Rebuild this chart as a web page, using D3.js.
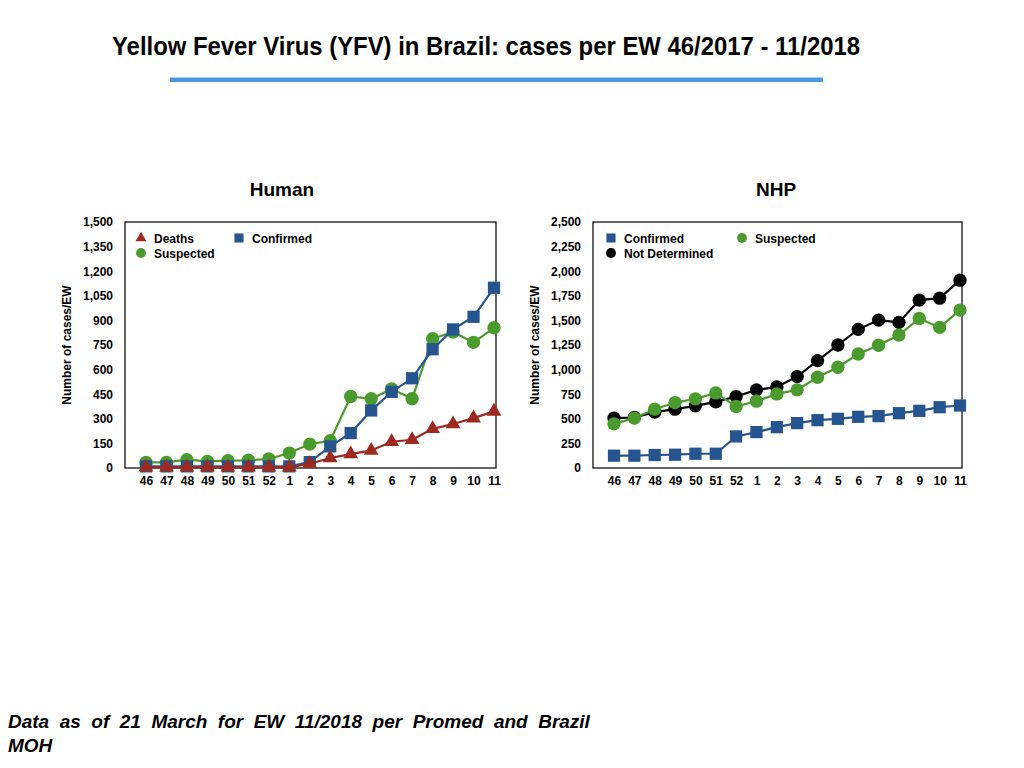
<!DOCTYPE html>
<html>
<head>
<meta charset="utf-8">
<script src="https://cdn.jsdelivr.net/npm/d3@7"></script>
<style>
  html, body { margin: 0; padding: 0; background: #fff; }
  svg { display: block; }
  text { font-family: "Liberation Sans", Arial, Helvetica, sans-serif; font-weight: bold; fill: #000; }
</style>
</head>
<body>
<svg id="chart" width="1024" height="768"></svg>
<script>
// EW 46/2017 -> 11/2018
const weeks = ["46", "47", "48", "49", "50", "51", "52", "1", "2", "3", "4", "5", "6", "7", "8", "9", "10", "11"]

// Human cases per EW
const humanSuspected = [34, 34, 51, 40, 45, 47, 55, 91, 146, 166, 436, 422, 482, 422, 788, 829, 766, 855]
const humanConfirmed = [10, 10, 10, 10, 10, 10, 10, 10, 36, 132, 213, 351, 464, 547, 724, 845, 922, 1099]
const humanDeaths    = [4, 4, 4, 4, 4, 4, 4, 4, 26, 61, 85, 107, 160, 172, 239, 268, 304, 345]

// NHP cases per EW
const nhpConfirmed = [125, 125, 132, 135, 145, 145, 321, 365, 415, 456, 486, 500, 520, 527, 557, 581, 618, 635]
const nhpSuspected = [449, 507, 598, 665, 703, 763, 625, 679, 753, 794, 922, 1024, 1159, 1247, 1351, 1520, 1429, 1605]
const nhpNotDetermined = [507, 513, 568, 598, 632, 672, 726, 794, 824, 929, 1091, 1250, 1409, 1503, 1480, 1706, 1726, 1909]

const humanTicks = d3.range(0, 1501, 150)
const nhpTicks   = d3.range(0, 2501, 250)

const RED = '#9c2a1f', BLUE = '#26548f', GREEN = '#4b9a2d', BLACK = '#000'

const svg = d3.select('#chart')

// ── Titre + règle bleue ──────────────────────────────
svg.append('text')
  .attr('x', 112).attr('y', 55)
  .style('font-family', '"Liberation Sans Narrow", "Liberation Sans", Arial, sans-serif')
  .attr('font-size', 25)
  .attr('textLength', 748).attr('lengthAdjust', 'spacingAndGlyphs')
  .text('Yellow Fever Virus (YFV) in Brazil: cases per EW 46/2017 - 11/2018')

svg.append('rect')
  .attr('x', 170).attr('y', 77.5).attr('width', 653).attr('height', 4.5)
  .attr('fill', '#4a97e6')

// ── Source (ligne 1 justifiée par l'espacement des mots) ──
const src = svg.append('text')
  .attr('x', 8).attr('y', 728)
  .attr('font-size', 19).attr('font-style', 'italic')
  .text('Data as of 21 March for EW 11/2018 per Promed and Brazil')
let ws = 0
for (let k = 0; k < 3; k++) {
  const w = src.node().getBBox().width
  ws = Math.max(0, ws + (582 - w) / 9)
  src.attr('word-spacing', ws)
}
svg.append('text')
  .attr('x', 8).attr('y', 752)
  .attr('font-size', 19).attr('font-style', 'italic')
  .text('MOH')

// ── Un panneau ───────────────────────────────────────
function panel(opts) {
  const { x0, x1, y0, y1, title, titleX, ticks, series, legend } = opts
  const g = svg.append('g')

  const x = d3.scalePoint().domain(weeks).range([x0 + 21, x1 - 2])
  const y = d3.scaleLinear().domain([0, d3.max(ticks)]).range([y1, y0])

  // titre du panneau
  g.append('text')
    .attr('x', titleX).attr('y', 196)
    .attr('text-anchor', 'middle').attr('font-size', 19)
    .text(title)

  // cadre
  g.append('rect')
    .attr('x', x0).attr('y', y0).attr('width', x1 - x0).attr('height', y1 - y0)
    .attr('fill', 'none').attr('stroke', '#000').attr('stroke-width', 1.2)

  // axes sans graduations
  const yAxis = g.append('g').attr('transform', `translate(${x0},0)`)
    .call(d3.axisLeft(y).tickValues(ticks).tickFormat(d3.format(',')).tickSize(0).tickPadding(12))
  const xAxis = g.append('g').attr('transform', `translate(0,${y1})`)
    .call(d3.axisBottom(x).tickSize(0).tickPadding(8))
  ;[yAxis, xAxis].forEach(a => {
    a.select('.domain').remove()
    a.selectAll('text').attr('font-size', 12).attr('font-family', null).attr('font-weight', 'bold').attr('fill', '#000')
  })

  g.append('text')
    .attr('transform', `translate(${x0 - 54},${(y0 + y1) / 2}) rotate(-90)`)
    .attr('text-anchor', 'middle').attr('font-size', 12)
    .text('Number of cases/EW')

  const line = d3.line().x((d, i) => x(weeks[i])).y(d => y(d))

  series.forEach(s => {
    g.append('path').datum(s.values)
      .attr('d', line).attr('fill', 'none')
      .attr('stroke', s.color).attr('stroke-width', 2.2)
    g.append('g').selectAll('path').data(s.values).join('path')
      .attr('transform', (d, i) => `translate(${x(weeks[i])},${y(d)})`)
      .attr('d', d3.symbol().type(s.symbol).size(s.size))
      .attr('fill', s.color)
  })

  // légende
  legend.forEach(l => {
    g.append('path')
      .attr('transform', `translate(${l.x},${l.y})`)
      .attr('d', d3.symbol().type(l.s.symbol).size(l.s.size * 0.55))
      .attr('fill', l.s.color)
    g.append('text')
      .attr('x', l.x + 13).attr('y', l.y + 4.5)
      .attr('font-size', 12)
      .text(l.s.name)
  })
}

const sq = { symbol: d3.symbolSquare, size: 150 }
const ci = { symbol: d3.symbolCircle, size: 140 }
const tr = { symbol: d3.symbolTriangle, size: 95 }

const hSusp  = { name: 'Suspected', values: humanSuspected, color: GREEN, ...ci }
const hConf  = { name: 'Confirmed', values: humanConfirmed, color: BLUE, ...sq }
const hDeath = { name: 'Deaths', values: humanDeaths, color: RED, ...tr }

panel({
  x0: 125, x1: 496, y0: 222, y1: 468,
  title: 'Human', titleX: 282, ticks: humanTicks,
  series: [hSusp, hConf, hDeath],
  legend: [
    { s: hDeath, x: 141, y: 238 },
    { s: hConf,  x: 239, y: 238 },
    { s: hSusp,  x: 141, y: 253 }
  ]
})

const nND   = { name: 'Not Determined', values: nhpNotDetermined, color: BLACK, ...ci }
const nSusp = { name: 'Suspected', values: nhpSuspected, color: GREEN, ...ci }
const nConf = { name: 'Confirmed', values: nhpConfirmed, color: BLUE, ...sq }

panel({
  x0: 593, x1: 962, y0: 222, y1: 468,
  title: 'NHP', titleX: 776, ticks: nhpTicks,
  series: [nND, nSusp, nConf],
  legend: [
    { s: nConf, x: 611, y: 238 },
    { s: nSusp, x: 742, y: 238 },
    { s: nND,   x: 611, y: 253 }
  ]
})
</script>
</body>
</html>
